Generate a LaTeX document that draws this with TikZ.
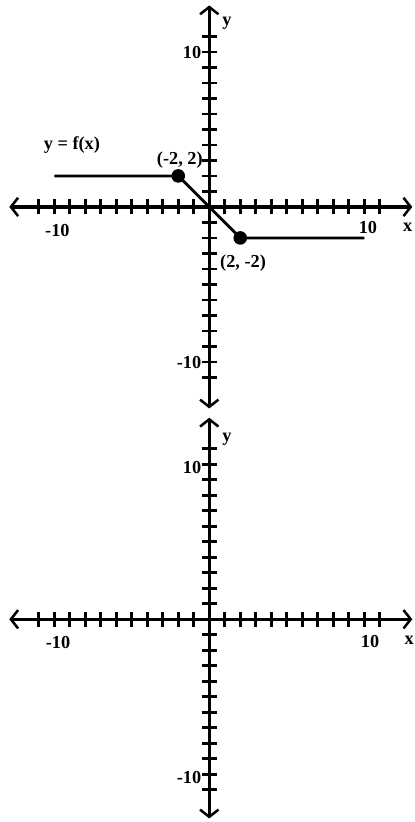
\documentclass[tikz,border=0pt]{standalone}
\usepackage{fontspec}
\setmainfont{Liberation Serif}
\usetikzlibrary{arrows.meta}

\tikzset{
  axis/.style={line width=2.4pt, {Straight Barb[length=0.18cm,width=0.46cm,line width=1.8pt]}-{Straight Barb[length=0.18cm,width=0.46cm,line width=1.8pt]}},
  tickmark/.style={line width=2pt},
  graphline/.style={line width=2pt},
  lbl/.style={font=\fontsize{13}{15}\selectfont\bfseries, inner sep=0pt},
  dot/.style={circle, fill, inner sep=0pt, minimum size=0.34cm}
}

\begin{document}
\begin{tikzpicture}[x=0.3875cm,y=0.3875cm]
  \useasboundingbox (-13.50,13.35) rectangle (13.27,-39.68);

% top graph, y = f(x)
  \coordinate (xl) at (-12.9,0);
  \coordinate (xr) at (13.1,0);
  \coordinate (yb) at (0,-13);
  \coordinate (yt) at (0,13);
  \draw[axis] (xl) -- (xr);
  \draw[axis] (yb) -- (yt);
  \foreach \t in {-11,...,-1,1,2,...,11}{
    \draw[tickmark] (\t,-0.48) -- (\t,0.48);
    \draw[tickmark] (-0.48,\t) -- (0.48,\t);
  }

\node[lbl] (ylab) at (1.14,11.87){y};
\node[lbl, anchor=east] (ytop) at (-0.5,9.95){10};
\node[lbl, anchor=east] (ybot) at (-0.5,-10.05){-10};
\node[lbl] (xleft) at (-9.8,-1.5){-10};
\node[lbl] (xright) at (10.24,-1.35){10};
\node[lbl] (xlab) at (12.8,-1.3){x};

\node[lbl] (fname) at (-8.86,4.0){y = f(x)};
\node[lbl] (plab) at (-1.9,3.03){(-2, 2)};
\node[lbl] (qlab) at (2.18,-3.6){(2, -2)};

  \coordinate (f1) at (-10,2);
  \coordinate (f2) at (10,-2);
  \node[dot] (p) at (-2,2){};
  \node[dot] (q) at (2,-2){};
  \draw[graphline] (f1) -- (p.center) -- (q.center) -- (f2);

% bottom graph, empty axes
\begin{scope}[shift={(0,-26.6)}]
  \coordinate (xl2) at (-12.9,0);
  \coordinate (xr2) at (13.1,0);
  \coordinate (yb2) at (0,-12.85);
  \coordinate (yt2) at (0,13);
  \draw[axis] (xl2) -- (xr2);
  \draw[axis] (yb2) -- (yt2);
  \foreach \t in {-11,...,-1,1,2,...,11}{
    \draw[tickmark] (\t,-0.48) -- (\t,0.48);
    \draw[tickmark] (-0.48,\t) -- (0.48,\t);
  }

\node[lbl] (ylab2) at (1.14,11.63){y};
\node[lbl, anchor=east] (ytop2) at (-0.5,9.76){10};
\node[lbl, anchor=east] (ybot2) at (-0.5,-10.2){-10};
\node[lbl] (xleft2) at (-9.76,-1.5){-10};
\node[lbl] (xright2) at (10.37,-1.45){10};
\node[lbl] (xlab2) at (12.9,-1.34){x};
\end{scope}
\end{tikzpicture}
\end{document}
